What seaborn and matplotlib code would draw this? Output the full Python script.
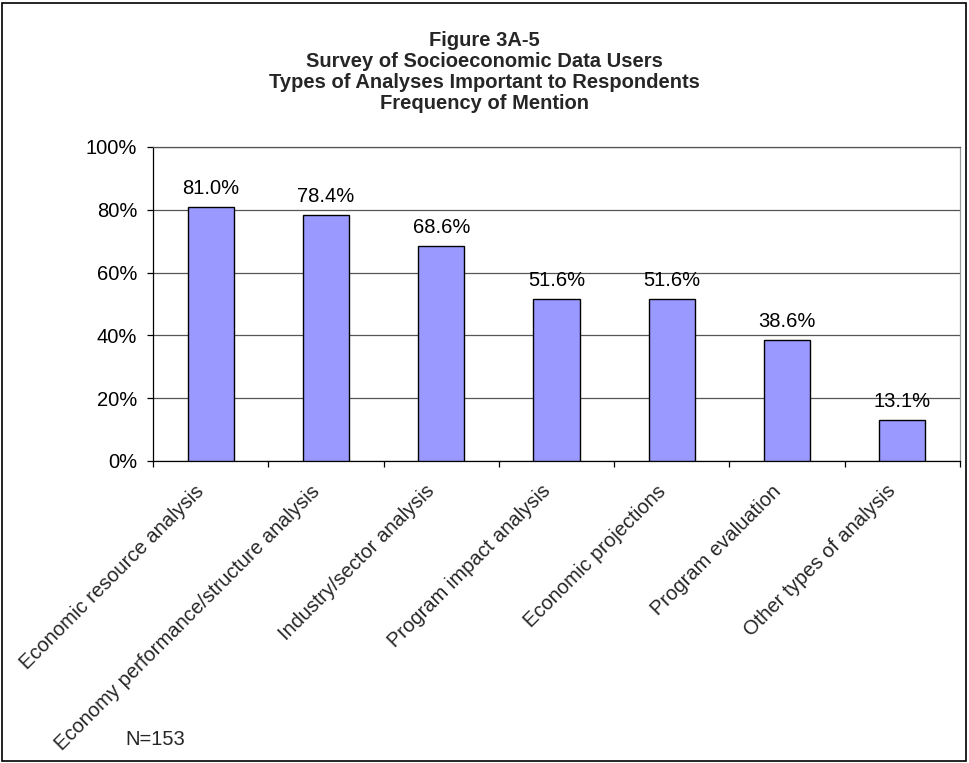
import matplotlib
matplotlib.use("Agg")
import matplotlib.pyplot as plt
import matplotlib.transforms as mtransforms
import seaborn as sns
import pandas as pd
from matplotlib.patches import Rectangle
from matplotlib.ticker import FuncFormatter, FixedLocator

categories = [
    "Economic resource analysis",
    "Economy performance/structure analysis",
    "Industry/sector analysis",
    "Program impact analysis",
    "Economic projections",
    "Program evaluation",
    "Other types of analysis",
]
values = [81.0, 78.4, 68.6, 51.6, 51.6, 38.6, 13.1]
y_ticks = [0, 20, 40, 60, 80, 100]
title_lines = [
    "Figure 3A-5",
    "Survey of Socioeconomic Data Users",
    "Types of Analyses Important to Respondents",
    "Frequency of Mention",
]
sample_note = "N=153"

FS = 14.5

sns.set_theme(style="white")
plt.rcParams["font.family"] = ["Liberation Sans", "DejaVu Sans"]

df = pd.DataFrame({"category": categories, "value": values})

fig = plt.figure(figsize=(9.69, 7.63), dpi=100)
ax = fig.add_axes([153 / 969, 1 - 461 / 763, 807 / 969, 314 / 763])

sns.barplot(data=df, x="category", y="value", color="#9999FF",
            edgecolor="black", linewidth=1.0, width=0.4, saturation=1,
            ax=ax, zorder=3)

ax.set_ylim(0, 100)
ax.set_xlim(-0.5, len(categories) - 0.5)
ax.yaxis.set_major_locator(FixedLocator(y_ticks))
ax.yaxis.set_major_formatter(FuncFormatter(lambda v, p: f"{v:.0f}%"))
ax.grid(axis="y", color="#555555", linewidth=0.9, zorder=0)
ax.set_axisbelow(True)
ax.set_xlabel("")
ax.set_ylabel("")

# Spines: black axes, grey plot-area border
ax.spines["left"].set_color("black")
ax.spines["bottom"].set_color("black")
ax.spines["right"].set_color("#999999")
ax.spines["top"].set_color("#555555")
for s in ax.spines.values():
    s.set_linewidth(0.9)

ax.tick_params(axis="y", which="major", left=True, length=4.3, width=0.9,
               color="black", labelsize=FS, pad=7, labelcolor="black")

# Category ticks at boundaries, labels at centers
ax.set_xticks(range(len(categories)))
ax.set_xticklabels(categories, rotation=45, ha="right",
                   rotation_mode="anchor", fontsize=FS)
ax.tick_params(axis="x", which="major", bottom=False, length=0, pad=14.8)
ax.set_xticks([i - 0.5 for i in range(len(categories) + 1)], minor=True)
ax.tick_params(axis="x", which="minor", bottom=True, length=4.3, width=0.9,
               color="black")
shift = mtransforms.ScaledTranslation(-16 / 100, 0, fig.dpi_scale_trans)
for lbl in ax.get_xticklabels():
    lbl.set_transform(lbl.get_transform() + shift)

for i, v in enumerate(values):
    ax.annotate(f"{v:.1f}%", (i, v), xytext=(0, 9), textcoords="offset points",
                ha="center", va="baseline", fontsize=FS, color="black")

fig.text(484 / 969, 1 - 72 / 763, "\n".join(title_lines), ha="center",
         va="center", fontsize=FS, fontweight="bold", linespacing=1.15)

fig.text(125 / 969, 1 - 745 / 763, sample_note, ha="left", va="baseline",
         fontsize=FS)

# Outer chart border
fig.patches.append(Rectangle((2 / 969, 2 / 763), 964 / 969, 758 / 763,
                             transform=fig.transFigure, fill=False,
                             edgecolor="black", linewidth=1.2))

fig.savefig("out.png", dpi=100)
